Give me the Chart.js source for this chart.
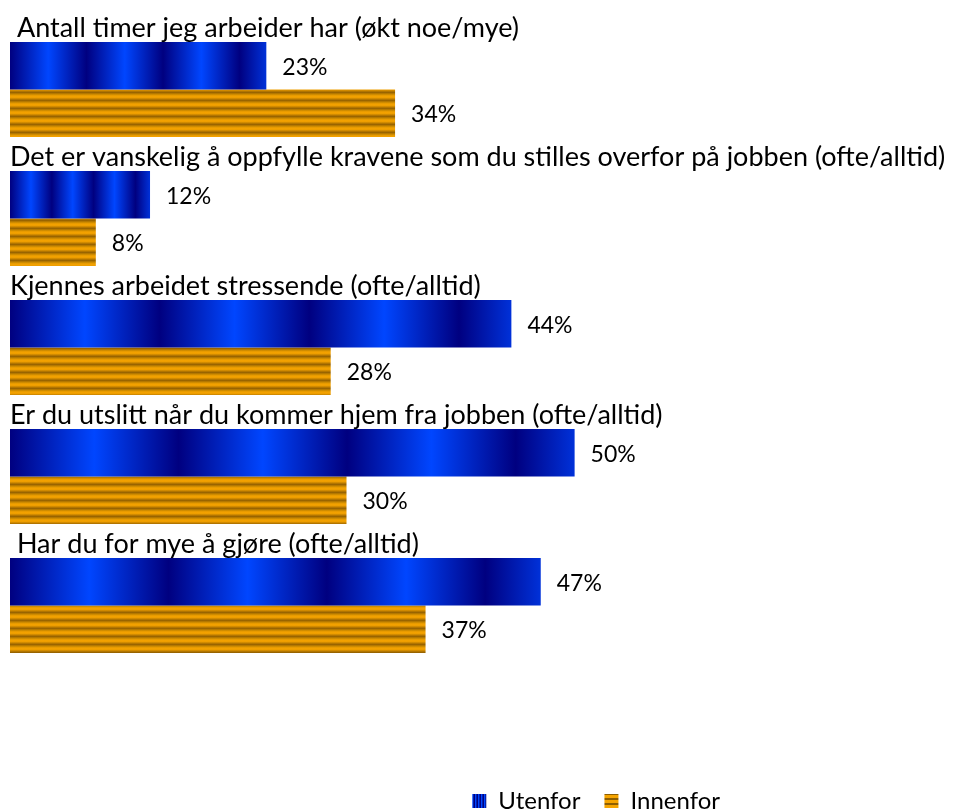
<!DOCTYPE html>
<html><head><meta charset="utf-8">
<script src="https://cdn.jsdelivr.net/npm/chart.js@4.4.1/dist/chart.umd.min.js"></script>
<style>html,body{margin:0;padding:0;background:#fff}#wrap{width:960px;height:811px;position:relative}</style>
</head><body><div id="wrap"><canvas id="c"></canvas></div>
<script>
const categories = [
  " Antall timer jeg arbeider har (økt noe/mye)",
  "Det er vanskelig å oppfylle kravene som du stilles overfor på jobben (ofte/alltid)",
  "Kjennes arbeidet stressende (ofte/alltid)",
  "Er du utslitt når du kommer hjem fra jobben (ofte/alltid)",
  " Har du for mye å gjøre (ofte/alltid)"
];
const seriesNames = ["Utenfor", "Innenfor"];
const utenfor = [22.7, 12.4, 44.4, 50.0, 47.0];
const innenfor = [34.1, 7.6, 28.4, 29.8, 36.8];
const xMin = 0, xMax = 65;

const DARK = [0, 0, 128], BRIGHT = [0, 70, 255];
const rgb = a => `rgb(${a[0]},${a[1]},${a[2]})`;
const mix = (a, b, t) => a.map((v, i) => Math.round(v + (b[i] - v) * t));

function blueFill(c) {
  if (c.type !== 'data') return '#0030C0';
  const chart = c.chart, xs = chart.scales && chart.scales.x;
  if (!xs) return '#0030C0';
  const x0 = xs.getPixelForValue(0), x1 = xs.getPixelForValue(c.raw);
  if (!isFinite(x0) || !isFinite(x1) || x1 === x0) return '#0030C0';
  const g = chart.ctx.createLinearGradient(x0, 0, x1, 0);
  const periods = 3.35, half = 0.5 / periods;
  let k = 0;
  while (k * half <= 1) { g.addColorStop(k * half, rgb(k % 2 ? BRIGHT : DARK)); k++; }
  const last = k - 1;
  const frac = (1 - last * half) / half;
  const from = last % 2 ? BRIGHT : DARK, to = last % 2 ? DARK : BRIGHT;
  g.addColorStop(1, rgb(mix(from, to, frac)));
  return g;
}

function makeCanvas(w, h) { const cv = document.createElement('canvas'); cv.width = w; cv.height = h; return cv; }
const tmpCtx = makeCanvas(1, 1).getContext('2d');

// orange horizontal stripes
const orangeCv = makeCanvas(4, 8);
(function () {
  const x = orangeCv.getContext('2d');
  const g = x.createLinearGradient(0, 0, 0, 8);
  g.addColorStop(0, '#F5A300'); g.addColorStop(0.2, '#EE9E00'); g.addColorStop(0.55, '#966200');
  g.addColorStop(0.8, '#CC8A00'); g.addColorStop(1, '#F5A300');
  x.fillStyle = g; x.fillRect(0, 0, 4, 8);
})();
const orangePattern = tmpCtx.createPattern(orangeCv, 'repeat');

// legend patterns
const legBlueCv = makeCanvas(3, 1);
(function () {
  const x = legBlueCv.getContext('2d');
  x.fillStyle = '#000080'; x.fillRect(0, 0, 1, 1);
  x.fillStyle = '#0046FF'; x.fillRect(1, 0, 1, 1);
  x.fillStyle = '#0020B0'; x.fillRect(2, 0, 1, 1);
})();
const legOrangeCv = makeCanvas(1, 5);
(function () {
  const x = legOrangeCv.getContext('2d');
  x.fillStyle = '#F5A400'; x.fillRect(0, 0, 1, 3);
  x.fillStyle = '#8E5E00'; x.fillRect(0, 3, 1, 2);
})();
const legendPatterns = [tmpCtx.createPattern(legBlueCv, 'repeat'), tmpCtx.createPattern(legOrangeCv, 'repeat')];

const labelPlugin = {
  id: 'barTexts',
  afterDatasetsDraw(chart) {
    const ctx = chart.ctx;
    ctx.save();
    ctx.fillStyle = '#000';
    ctx.textAlign = 'left';
    ctx.textBaseline = 'alphabetic';
    const m0 = chart.getDatasetMeta(0);
    ctx.font = '27px Lato';
    chart.data.labels.forEach((lab, i) => {
      const el = m0.data[i];
      const top = el.y - el.height / 2;
      ctx.fillText(lab, chart.chartArea.left, top - 5);
    });
    ctx.font = '23px Lato';
    chart.data.datasets.forEach((ds, di) => {
      const meta = chart.getDatasetMeta(di);
      meta.data.forEach((el, i) => {
        ctx.fillText(Math.round(ds.data[i]) + '%', el.x + 16, el.y + 9);
      });
    });
    ctx.restore();
  }
};

new Chart(document.getElementById('c'), {
  type: 'bar',
  data: {
    labels: categories,
    datasets: [
      { label: seriesNames[0], data: utenfor, backgroundColor: blueFill, borderWidth: 0 },
      { label: seriesNames[1], data: innenfor, backgroundColor: orangePattern, borderWidth: 0 }
    ]
  },
  options: {
    indexAxis: 'y',
    responsive: true,
    maintainAspectRatio: false,
    animation: false,
    layout: { padding: { left: 10, right: 216, top: 25, bottom: -12 } },
    datasets: { bar: { categoryPercentage: 0.735, barPercentage: 1 } },
    scales: {
      x: {
        min: xMin, max: xMax, display: true,
        grid: { display: false }, ticks: { display: false }, border: { display: false },
        afterFit: s => { s.height = 95; }
      },
      y: { display: false }
    },
    plugins: {
      tooltip: { enabled: false },
      legend: {
        position: 'bottom', align: 'end',
        labels: {
          font: { family: 'Lato', size: 24 }, color: '#000',
          boxWidth: 14, boxHeight: 14, padding: 24,
          generateLabels: (chart) => chart.data.datasets.map((ds, i) => ({
            text: ds.label, fillStyle: legendPatterns[i], strokeStyle: 'rgba(0,0,0,0)',
            lineWidth: 0, hidden: false, datasetIndex: i, fontColor: '#000'
          }))
        }
      }
    }
  },
  plugins: [labelPlugin]
});
</script>
</body></html>
